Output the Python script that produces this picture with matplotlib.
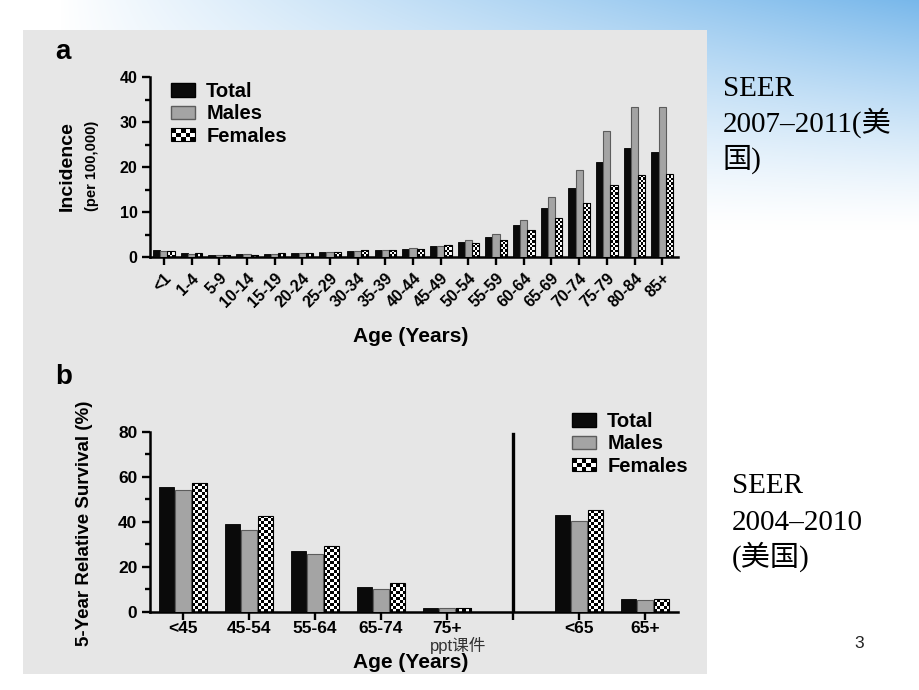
import matplotlib
matplotlib.use("Agg")
import matplotlib.pyplot as plt
import numpy as np
from matplotlib.legend_handler import HandlerBase
from matplotlib.patches import Patch, Rectangle
from matplotlib.ticker import MultipleLocator

plt.rcParams["font.family"] = ["Liberation Sans", "Noto Sans CJK SC"]

W, H = 920, 690

# panel a: incidence per 100,000 by age group
age_groups_a = ["<1", "1-4", "5-9", "10-14", "15-19", "20-24", "25-29", "30-34", "35-39",
                "40-44", "45-49", "50-54", "55-59", "60-64", "65-69", "70-74", "75-79",
                "80-84", "85+"]
incidence_total = [1.6, 0.9, 0.4, 0.7, 0.8, 0.9, 1.2, 1.5, 1.7, 1.9, 2.6, 3.5, 4.4, 7.2,
                   11.0, 15.3, 21.2, 24.3, 23.4]
incidence_males = [1.3, 0.8, 0.4, 0.7, 0.8, 0.9, 1.2, 1.5, 1.6, 2.0, 2.6, 3.8, 5.2, 8.3,
                   13.5, 19.3, 28.0, 33.3, 33.5]
incidence_females = [1.5, 0.9, 0.4, 0.6, 1.0, 0.9, 1.2, 1.6, 1.7, 1.8, 2.8, 3.2, 3.8, 6.0,
                     8.8, 12.0, 16.0, 18.3, 18.4]

# panel b: 5-year relative survival (%), fine age groups | broad age groups
age_groups_b = ["<45", "45-54", "55-64", "65-74", "75+"]
survival_total = [55.6, 39.1, 27.1, 11.1, 1.8]
survival_males = [54.2, 36.1, 25.6, 10.1, 1.5]
survival_females = [57.3, 42.7, 29.2, 12.6, 1.8]

age_groups_b2 = ["<65", "65+"]
survival_total_b2 = [42.8, 5.5]
survival_males_b2 = [40.5, 5.2]
survival_females_b2 = [45.2, 5.8]

BLACK = "#0a0a0a"
GRAY = "#a4a4a4"
GRAY_EDGE = "#5c5c5c"
PANEL = "#e6e6e6"


class CheckerHandler(HandlerBase):
    def create_artists(self, legend, orig_handle, xdescent, ydescent, width, height, fontsize, trans):
        ncols, nrows = 5, 3
        cw, ch = width / ncols, height / nrows
        cells = []
        for i in range(ncols):
            for j in range(nrows):
                fc = "black" if (i + j) % 2 == 0 else "white"
                cells.append(Rectangle((-xdescent + i * cw, -ydescent + j * ch), cw, ch,
                                       facecolor=fc, edgecolor="none", transform=trans))
        cells.append(Rectangle((-xdescent, -ydescent), width, height, fill=False,
                               edgecolor="black", linewidth=0.8, transform=trans))
        return cells


def px_axes(fig, left, top, right, bottom):
    return fig.add_axes([left / W, 1 - bottom / H, (right - left) / W, (bottom - top) / H])


def ftext(fig, x, y, s, **kw):
    fig.text(x / W, 1 - y / H, s, **kw)


def checker_bars(ax, bars, ncols, cell_px):
    px_per_unit = ax.transData.transform((0, 1))[1] - ax.transData.transform((0, 0))[1]
    cell_h = cell_px / px_per_unit
    for bar in bars:
        x0, w, h = bar.get_x(), bar.get_width(), bar.get_height()
        nrows = max(1, int(np.ceil(h / cell_h)))
        grid = (np.indices((nrows, ncols)).sum(axis=0) % 2).astype(float)
        im = ax.imshow(grid, cmap="gray", vmin=0, vmax=1, interpolation="nearest",
                       origin="lower", extent=(x0, x0 + w, 0, nrows * cell_h),
                       aspect="auto", zorder=2)
        im.set_clip_path(bar)


def style_axes(ax, labelsize):
    for side in ["top", "right"]:
        ax.spines[side].set_visible(False)
    for side in ["left", "bottom"]:
        ax.spines[side].set_linewidth(1.8)
    ax.set_facecolor("none")
    ax.tick_params(axis="both", which="major", direction="out", length=5.5, width=1.7,
                   labelsize=labelsize)
    ax.tick_params(axis="y", which="minor", direction="out", length=3.5, width=1.7)
    for lab in ax.get_yticklabels():
        lab.set_fontweight("bold")


def add_legend(fig, ax, x, y):
    female = Patch(facecolor="white", edgecolor="black")
    handles = [Patch(facecolor=BLACK, edgecolor="black"),
               Patch(facecolor=GRAY, edgecolor=GRAY_EDGE), female]
    ax.legend(handles, ["Total", "Males", "Females"], handler_map={female: CheckerHandler()},
              loc="upper left", bbox_to_anchor=(x / W, 1 - y / H), bbox_transform=fig.transFigure,
              frameon=False, prop=dict(weight="bold", size=14.5), handlelength=1.2,
              handleheight=0.65, handletextpad=0.55, labelspacing=0.17, borderpad=0,
              borderaxespad=0)


fig = plt.figure(figsize=(W / 100, H / 100), dpi=100)

# slide background: blue gradient banner and grey picture panel
bg = fig.add_axes([0, 0, 1, 1])
bg.set_axis_off()
yy, xx = np.mgrid[0:H, 0:W]
t = np.clip((xx - 60) / 860, 0, 1) ** 0.9
v = np.clip(1 - yy / 230, 0, 1) ** 1.3
a = (t * v)[..., None]
blue = np.array([0.47, 0.72, 0.92])
bg.imshow(1 - a * (1 - blue), extent=(0, W, H, 0), aspect="auto", interpolation="bilinear")
bg.add_patch(Rectangle((23, 30), 684, 644, facecolor=PANEL, edgecolor="none"))
bg.set_xlim(0, W)
bg.set_ylim(H, 0)

# ---- panel a ----
ax = px_axes(fig, 150, 77.3, 678, 257.3)
xa = np.arange(len(age_groups_a))
bw = 0.26
ax.bar(xa - bw, incidence_total, bw, color=BLACK, edgecolor="black", linewidth=0.6, zorder=3)
ax.bar(xa, incidence_males, bw, color=GRAY, edgecolor=GRAY_EDGE, linewidth=0.8, zorder=3)
fem_a = ax.bar(xa + bw, incidence_females, bw, facecolor="none", edgecolor="black",
               linewidth=0.8, zorder=3)
ax.set_xlim(-0.5, 18.57)
ax.set_ylim(0, 40)
ax.yaxis.set_major_locator(MultipleLocator(10))
ax.yaxis.set_minor_locator(MultipleLocator(5))
ax.set_xticks(xa)
ax.set_xticklabels(age_groups_a, rotation=45, ha="right", rotation_mode="anchor",
                   fontweight="bold", fontsize=11)
style_axes(ax, 11.5)
ax.tick_params(axis="x", pad=4)
checker_bars(ax, fem_a, 3, 2.4)
add_legend(fig, ax, 171, 82)

ftext(fig, 63, 52, "a", fontsize=20, fontweight="bold", ha="center", va="center")
ftext(fig, 67, 166, "Incidence", fontsize=14, fontweight="bold", rotation=90,
      ha="center", va="center")
ftext(fig, 92, 166, "(per 100,000)", fontsize=10.5, fontweight="bold", rotation=90,
      ha="center", va="center")
ftext(fig, 411, 336, "Age (Years)", fontsize=15, fontweight="bold", ha="center", va="center")

# ---- panel b ----
bx = px_axes(fig, 150, 431.7, 678, 611.7)
xb = np.arange(len(age_groups_b))
divider = len(age_groups_b)
xb2 = divider + 1 + np.arange(len(age_groups_b2))
bw = 0.23
off = 0.25
bx.bar(xb - off, survival_total, bw, color=BLACK, edgecolor="black", linewidth=0.6, zorder=3)
bx.bar(xb, survival_males, bw, color=GRAY, edgecolor=GRAY_EDGE, linewidth=0.8, zorder=3)
fem_b = bx.bar(xb + off, survival_females, bw, facecolor="none", edgecolor="black",
               linewidth=0.8, zorder=3)
bx.bar(xb2 - off, survival_total_b2, bw, color=BLACK, edgecolor="black", linewidth=0.6, zorder=3)
bx.bar(xb2, survival_males_b2, bw, color=GRAY, edgecolor=GRAY_EDGE, linewidth=0.8, zorder=3)
fem_b2 = bx.bar(xb2 + off, survival_females_b2, bw, facecolor="none", edgecolor="black",
                linewidth=0.8, zorder=3)
bx.axvline(divider, ymin=0, ymax=0.99, color="black", linewidth=2.4, zorder=4)
bx.set_xlim(-0.5, 7.5)
bx.set_ylim(0, 80)
bx.yaxis.set_major_locator(MultipleLocator(20))
bx.yaxis.set_minor_locator(MultipleLocator(10))
bx.set_xticks(list(xb) + [divider] + list(xb2))
bx.set_xticklabels(age_groups_b + [""] + age_groups_b2, fontweight="bold", fontsize=12.5)
style_axes(bx, 12.5)
bx.tick_params(axis="x", pad=1)
checker_bars(bx, list(fem_b) + list(fem_b2), 5, 3.0)
add_legend(fig, bx, 572, 412)

ftext(fig, 64, 377, "b", fontsize=20, fontweight="bold", ha="center", va="center")
ftext(fig, 85, 523, "5-Year Relative Survival (%)", fontsize=13.5, fontweight="bold",
      rotation=90, ha="center", va="center")
ftext(fig, 411, 662, "Age (Years)", fontsize=15, fontweight="bold", ha="center", va="center")

# ---- slide text ----
serif = ["Liberation Serif", "Noto Sans CJK SC"]
for y, s in [(96, "SEER"), (132, "2007\u20132011(美"), (168, "国)")]:
    ftext(fig, 723, y, s, fontsize=21, family=serif, va="baseline")
for y, s in [(493, "SEER"), (530, "2004\u20132010"), (566, "(美国)")]:
    ftext(fig, 732, y, s, fontsize=21, family=serif, va="baseline")
ftext(fig, 430, 645, "ppt课件", fontsize=12, color="#333333", va="center")
ftext(fig, 859, 644, "3", fontsize=12.5, color="#222222", ha="center", va="center")

fig.savefig("out.png", dpi=100)
